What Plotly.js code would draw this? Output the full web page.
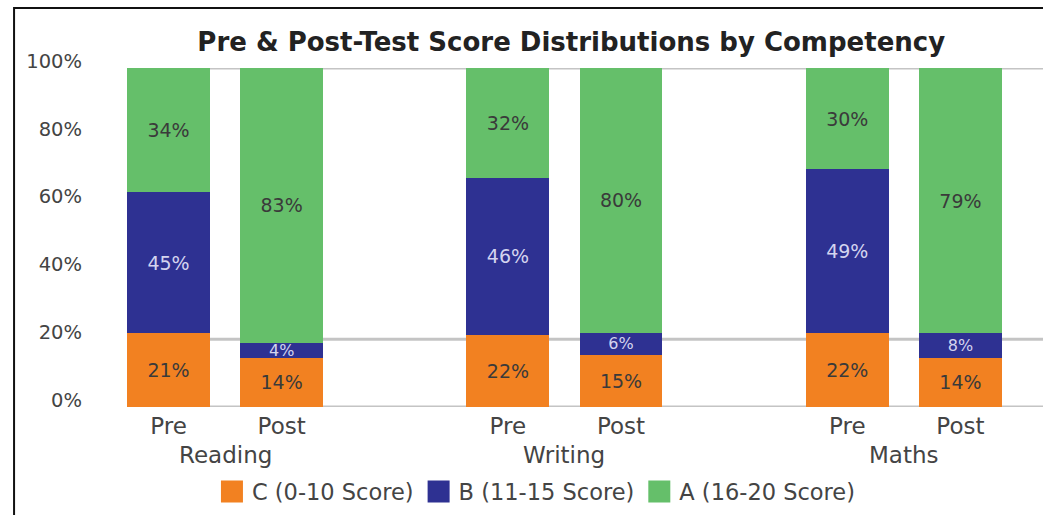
<!DOCTYPE html>
<html><head><meta charset="utf-8">
<script src="https://cdn.plot.ly/plotly-3.0.1.min.js"></script>
<style>
html,body{margin:0;padding:0;background:#fff;overflow:hidden}
#chart{width:1043px;height:515px;}
</style>
</head><body><div id="chart"></div>
<script>
const groups = ['Reading', 'Writing', 'Maths'];
const categories = ['Reading Pre', 'Reading Post', ' ', 'Writing Pre', 'Writing Post', '  ', 'Maths Pre', 'Maths Post'];
const barCategories = ['Reading Pre', 'Reading Post', 'Writing Pre', 'Writing Post', 'Maths Pre', 'Maths Post'];
const tickLabels = ['Pre', 'Post', 'Pre', 'Post', 'Pre', 'Post'];
const seriesNames = ['C (0-10 Score)', 'B (11-15 Score)', 'A (16-20 Score)'];
const valuesC = [21.8, 14.6, 21.3, 15.3, 21.8, 14.6];
const valuesB = [41.6, 4.3, 46.2, 6.6, 48.3, 7.2];
const valuesA = [36.6, 81.1, 32.5, 78.1, 29.9, 78.2];
const labelsC = ['21%', '14%', '22%', '15%', '22%', '14%'];
const labelsB = ['45%', '4%', '46%', '6%', '49%', '8%'];
const labelsA = ['34%', '83%', '32%', '80%', '30%', '79%'];
const yTicks = [0, 20, 40, 60, 80, 100];
const yTickLabels = ['0%', '20%', '40%', '60%', '80%', '100%'];
const gridValues = [0, 20, 100];

const FONT = 'DejaVu Sans, sans-serif';
const colors = ['#F28121', '#2E3192', '#65BF6A'];
const textColors = ['#3a3a3a', '#d4d4ef', '#3a3a3a'];
const vals = [valuesC, valuesB, valuesA];
const labs = [labelsC, labelsB, labelsA];

const traces = vals.map((v, k) => ({
  type: 'bar',
  name: seriesNames[k],
  x: barCategories,
  y: v,
  text: labs[k],
  textposition: 'inside',
  insidetextanchor: 'middle',
  constraintext: 'none',
  textfont: {family: FONT, color: textColors[k], size: v.map(n => n < 10 ? 16 : 19)},
  marker: {color: colors[k], line: {width: 0}},
  hoverinfo: 'skip'
}));

const annotations = groups.map((g, i) => ({
  text: g, x: i * 3 + 0.5, xref: 'x', y: -0.143, yref: 'paper',
  xanchor: 'center', yanchor: 'middle', showarrow: false,
  font: {family: FONT, size: 23, color: '#444'}
}));

const shapes = gridValues.map(v => ({
  type: 'line', xref: 'paper', x0: 0, x1: 1, yref: 'y', y0: v, y1: v,
  line: {color: '#c4c4c4', width: 3}, layer: 'below'
}));
shapes.push({type: 'rect', xref: 'paper', yref: 'paper', x0: -0.1233, x1: 1.05, y0: -0.4, y1: 1.1773,
             line: {color: '#111', width: 2}, fillcolor: 'rgba(0,0,0,0)', layer: 'above'});

const layout = {
  width: 1043, height: 515,
  margin: {l: 127, r: 0, t: 68, b: 108},
  paper_bgcolor: '#fff', plot_bgcolor: '#fff',
  barmode: 'stack', bargap: 0.267,
  title: {text: 'Pre &amp; Post-Test Score Distributions by Competency', x: 0.485, xref: 'paper', xanchor: 'center',
          y: 0.918, yref: 'container', yanchor: 'middle',
          font: {family: FONT, size: 26, weight: 'bold', color: '#222'}},
  xaxis: {type: 'category', categoryorder: 'array', categoryarray: categories,
          tickvals: barCategories, ticktext: tickLabels, range: [-0.367, 7.73],
          showgrid: false, zeroline: false, showline: false, ticks: '', ticklabelstandoff: 3,
          tickfont: {family: FONT, size: 23, color: '#444'}},
  yaxis: {range: [0, 100], tickvals: yTicks, ticktext: yTickLabels, showgrid: false,
          zeroline: false, showline: false, ticks: '', ticklabelstandoff: 44, ticklabelshift: -7,
          tickfont: {family: FONT, size: 19.5, color: '#444'}},
  legend: {orientation: 'h', x: 0.447, xanchor: 'center', y: -0.25, yanchor: 'middle',
           font: {family: FONT, size: 22.5, color: '#444'}, traceorder: 'normal'},
  annotations: annotations,
  shapes: shapes
};

Plotly.newPlot('chart', traces, layout, {displayModeBar: false, staticPlot: true}).then(gd => {
  gd.querySelectorAll('.legendpoints path').forEach(p => p.setAttribute('d', 'M11,11H-11V-11H11Z'));
});
</script></body></html>
